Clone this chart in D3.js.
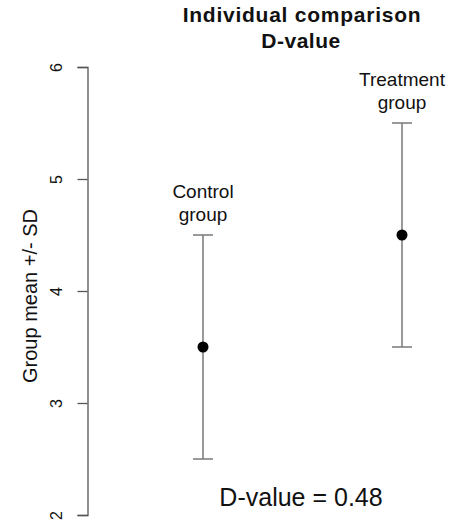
<!DOCTYPE html>
<html>
<head>
<meta charset="utf-8">
<script src="https://cdn.jsdelivr.net/npm/d3@7"></script>
<style>
  body { margin: 0; background: #fff; }
  text { font-family: "Liberation Sans", Arial, sans-serif; fill: #111; }
</style>
</head>
<body>
<div id="chart"></div>
<script>
// data
const groups = ["Control", "Treatment"];
const groupLabels = [["Control", "group"], ["Treatment", "group"]];
const means = [3.5, 4.5];
const sds = [1, 1];
const yTicks = [2, 3, 4, 5, 6];
const dValue = 0.48;

const width = 460, height = 524;

const svg = d3.select("#chart").append("svg")
    .attr("width", width)
    .attr("height", height);

const y = d3.scaleLinear().domain([2, 6]).range([515, 67]);
const x = d3.scalePoint().domain(groups).range([203, 402]);

// y axis, R style (rotated tick labels)
const yAxis = svg.append("g")
    .attr("transform", "translate(87.5,0)")
    .call(d3.axisLeft(y).tickValues(yTicks).tickSize(10).tickFormat(d3.format("d")));
yAxis.select(".domain").attr("stroke", "#555").attr("stroke-width", 1.3);
yAxis.selectAll(".tick line").attr("stroke", "#555").attr("stroke-width", 1.3);
yAxis.selectAll(".tick text")
    .attr("font-size", 16)
    .attr("fill", "#222")
    .attr("x", null).attr("dy", null)
    .attr("text-anchor", "middle")
    .attr("transform", "translate(-25.5,0) rotate(-90)");

svg.append("text")
    .attr("transform", "translate(37,296) rotate(-90)")
    .attr("text-anchor", "middle")
    .attr("font-size", 20)
    .text("Group mean +/- SD");

// title
svg.append("text")
    .attr("x", 302).attr("y", 22)
    .attr("text-anchor", "middle")
    .attr("font-size", 21).attr("font-weight", "bold")
    .attr("letter-spacing", 0.75)
    .text("Individual comparison");
svg.append("text")
    .attr("x", 301).attr("y", 48)
    .attr("text-anchor", "middle")
    .attr("font-size", 21).attr("font-weight", "bold")
    .attr("letter-spacing", 0.5)
    .text("D-value");

// error bars
const bars = svg.selectAll("g.bar")
    .data(groups)
    .enter()
    .append("g")
    .classed("bar", true);

bars.append("line")
    .attr("x1", d => x(d)).attr("x2", d => x(d))
    .attr("y1", (d, i) => y(means[i] + sds[i]))
    .attr("y2", (d, i) => y(means[i] - sds[i]))
    .attr("stroke", "#808080").attr("stroke-width", 1.6);

bars.append("line")
    .attr("x1", d => x(d) - 10).attr("x2", d => x(d) + 10)
    .attr("y1", (d, i) => y(means[i] + sds[i]))
    .attr("y2", (d, i) => y(means[i] + sds[i]))
    .attr("stroke", "#808080").attr("stroke-width", 1.6);

bars.append("line")
    .attr("x1", d => x(d) - 10).attr("x2", d => x(d) + 10)
    .attr("y1", (d, i) => y(means[i] - sds[i]))
    .attr("y2", (d, i) => y(means[i] - sds[i]))
    .attr("stroke", "#808080").attr("stroke-width", 1.6);

bars.append("circle")
    .attr("cx", d => x(d))
    .attr("cy", (d, i) => y(means[i]))
    .attr("r", 5.5)
    .attr("fill", "#000");

// group labels above the bars
bars.each(function(d, i) {
    const top = y(means[i] + sds[i]);
    d3.select(this).append("text")
        .attr("x", x(d)).attr("y", top - 37)
        .attr("text-anchor", "middle")
        .attr("font-size", 19)
        .text(groupLabels[i][0]);
    d3.select(this).append("text")
        .attr("x", x(d)).attr("y", top - 14)
        .attr("text-anchor", "middle")
        .attr("font-size", 19)
        .text(groupLabels[i][1]);
});

svg.append("text")
    .attr("x", 301).attr("y", 506)
    .attr("text-anchor", "middle")
    .attr("font-size", 25)
    .text("D-value = " + dValue);
</script>
</body>
</html>
